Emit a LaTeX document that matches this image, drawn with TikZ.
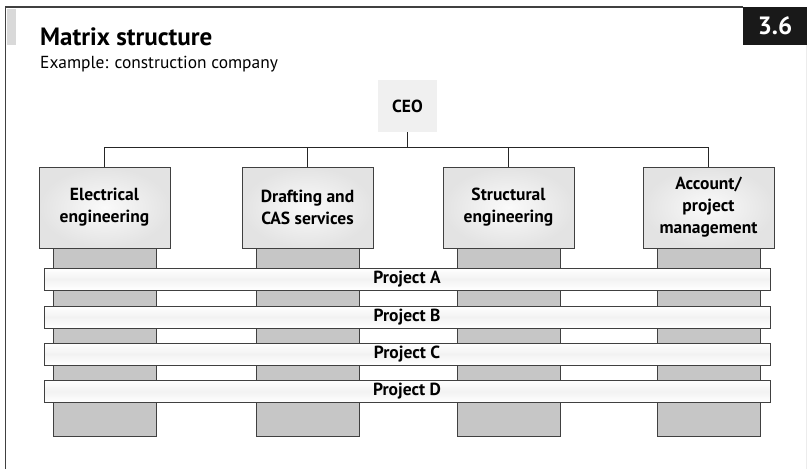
\documentclass[tikz,border=0pt]{standalone}
\usepackage{fontspec}
\setmainfont{PT Sans}
\usetikzlibrary{positioning,calc}

\begin{document}
\begin{tikzpicture}[x=1pt, y=-1pt,
    frame/.style={draw=black!75, line width=1.2pt},
    head/.style={fill=gray!12, inner sep=0, minimum width=59pt,
      minimum height=52pt, font=\fontsize{17.5}{22}\selectfont\bfseries},
    dept/.style={draw=black!75, line width=1pt, inner color=gray!4,
      outer color=gray!22, inner sep=0, minimum width=131pt,
      minimum height=81pt, align=center,
      font=\fontsize{17.5}{22}\selectfont\bfseries},
    col/.style={draw=black!75, line width=1pt, fill=gray!45, inner sep=0,
      minimum width=103pt, minimum height=188pt},
    proj/.style={draw=black!75, line width=1pt, top color=white,
      bottom color=white, middle color=gray!10, inner sep=0,
      minimum width=726pt, minimum height=22pt,
      font=\fontsize{17.5}{18}\selectfont\bfseries},
    link/.style={draw=black!85, line width=0.8pt}]
  \useasboundingbox (0,0) rectangle (807,469);

  % frame and heading
  \fill[gray!30] (7,9) rectangle (16,45);
  \draw[frame] (743,7) -- (5.5,7) -- (5.5,469);
  \draw[gray!15, line width=1pt] (806,45) -- (806,469);
  \node[fill=black!90, text=white, inner sep=0, minimum width=64pt,
    minimum height=38pt, font=\fontsize{25}{25}\selectfont\bfseries]
    (number) at (775,26) {3.6};
  \node[anchor=base west, inner sep=0,
    font=\fontsize{25}{25}\selectfont\bfseries] (title) at (40,45)
    {Matrix structure};
  \node[anchor=base west, inner sep=0, font=\fontsize{17.4}{17}\selectfont]
    (subtitle) at (40,68) {Example: construction company};

  % columns first, boxes on top
  \foreach \name/\x in {elec/104.5, draft/307.5, struct/508.5, acct/708.5}
    \node[col, anchor=north] (\name col) at (\x,248) {};

  \node[head] (ceo) at (407.5,106) {CEO};
  \node[dept] (elec) at (104.5,207.5) {Electrical\\engineering};
  \node[dept] (draft) at (307.5,207.5) {Drafting and\\CAS services};
  \node[dept] (struct) at (508.5,207.5) {Structural\\engineering};
  \node[dept] (acct) at (708.5,207.5) {Account/\\project\\management};

  % reporting lines
  \coordinate (bus) at ($(ceo.south)+(0,15)$);
  \draw[link] (ceo.south) -- (bus);
  \foreach \name in {elec, draft, struct, acct}
    \draw[link] (bus) -| (\name.north);

  % projects
  \foreach \name/\y/\txt in {projA/279/Project A, projB/317/Project B,
      projC/354/Project C, projD/391.5/Project D}
    \node[proj] (\name) at (407,\y) {\txt};
\end{tikzpicture}
\end{document}
